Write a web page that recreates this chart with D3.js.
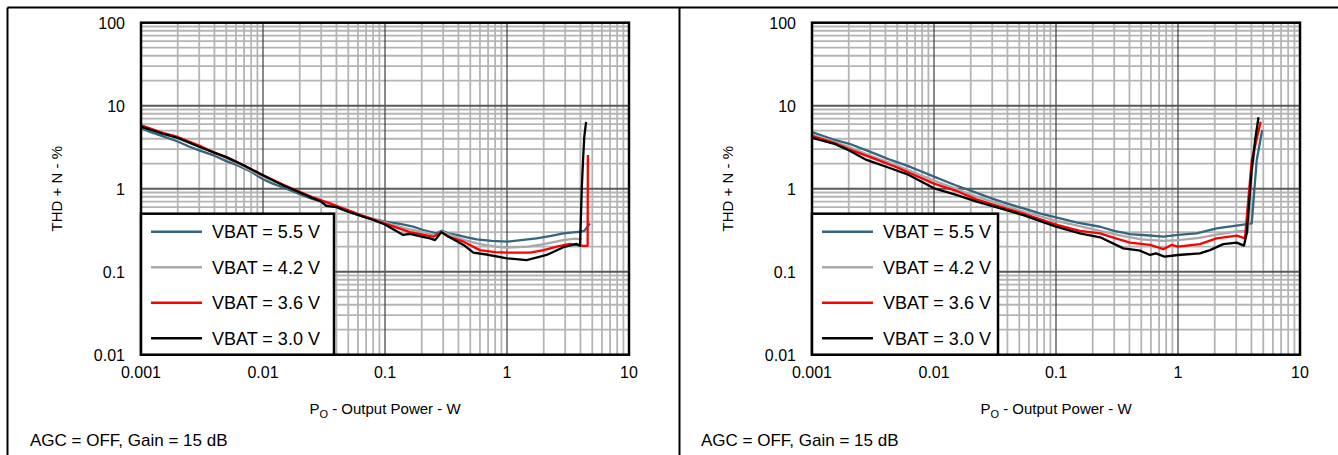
<!DOCTYPE html>
<html>
<head>
<meta charset="utf-8">
<script src="https://cdn.jsdelivr.net/npm/d3@7"></script>
<style>
  body { margin: 0; background: #fff; }
  text { font-family: Arial, "Liberation Sans", sans-serif; fill: #000; }
</style>
</head>
<body>
<div id="chart"></div>
<script>
// ---- data ----
const seriesNames = ["VBAT = 5.5 V", "VBAT = 4.2 V", "VBAT = 3.6 V", "VBAT = 3.0 V"];
const seriesColors = ["#35667f", "#a9a9a9", "#ff0000", "#000000"];
const xTicks = [0.001, 0.01, 0.1, 1, 10];
const yTicks = [0.01, 0.1, 1, 10, 100];
const xTickLabels = ["0.001", "0.01", "0.1", "1", "10"];
const yTickLabels = ["0.01", "0.1", "1", "10", "100"];
const yTitle = "THD + N - %";
const footNote = "AGC = OFF, Gain = 15 dB";

// left panel: [power W, THD+N %]
const leftVbat55 = [[0.001,5.4],[0.0012,4.8],[0.0015,4.3],[0.002,3.7],[0.0025,3.2],[0.003,2.9],[0.004,2.5],[0.005,2.15],[0.006,1.95],[0.008,1.6],[0.01,1.3],[0.012,1.15],[0.015,1.02],[0.02,0.86],[0.025,0.76],[0.03,0.7],[0.035,0.66],[0.045,0.56],[0.066,0.46],[0.1,0.4],[0.133,0.376],[0.17,0.35],[0.206,0.318],[0.265,0.29],[0.29,0.312],[0.33,0.29],[0.387,0.277],[0.47,0.26],[0.565,0.245],[0.75,0.235],[1.0,0.23],[1.3,0.24],[1.75,0.252],[2.3,0.27],[2.9,0.29],[3.5,0.298],[3.97,0.303],[4.3,0.31],[4.79,0.38]];
const leftVbat42 = [[0.001,5.8],[0.0015,4.7],[0.002,4.1],[0.003,3.2],[0.005,2.35],[0.01,1.4],[0.015,1.08],[0.02,0.9],[0.035,0.64],[0.066,0.47],[0.1,0.39],[0.15,0.33],[0.206,0.3],[0.265,0.275],[0.29,0.305],[0.35,0.275],[0.45,0.24],[0.6,0.215],[0.8,0.2],[1.0,0.195],[1.5,0.2],[2.0,0.215],[2.9,0.24],[3.6,0.25],[4.1,0.245]];
const leftVbat36 = [[0.001,5.8],[0.0015,4.7],[0.002,4.2],[0.003,3.3],[0.004,2.7],[0.005,2.4],[0.007,1.9],[0.01,1.45],[0.015,1.1],[0.02,0.92],[0.025,0.8],[0.035,0.67],[0.05,0.55],[0.066,0.47],[0.1,0.38],[0.16,0.3],[0.249,0.264],[0.29,0.3],[0.33,0.265],[0.44,0.23],[0.6,0.182],[0.8,0.172],[1.0,0.17],[1.55,0.17],[2.0,0.182],[2.56,0.2],[3.28,0.216],[4.2,0.205],[4.58,0.205],[4.6,2.55]];
const leftVbat30 = [[0.001,5.6],[0.0015,4.6],[0.002,4.1],[0.003,3.2],[0.005,2.4],[0.007,1.9],[0.01,1.45],[0.015,1.08],[0.02,0.9],[0.025,0.78],[0.03,0.7],[0.033,0.62],[0.04,0.6],[0.05,0.53],[0.08,0.42],[0.1,0.37],[0.141,0.277],[0.16,0.285],[0.2,0.265],[0.234,0.252],[0.257,0.24],[0.29,0.3],[0.33,0.265],[0.44,0.21],[0.53,0.17],[0.7,0.16],[1.0,0.145],[1.45,0.138],[2.11,0.159],[2.9,0.197],[3.72,0.216],[3.97,0.205],[4.1,1.0],[4.2,2.2],[4.3,4.2],[4.45,6.4]];

// right panel
const rightVbat55 = [[0.001,4.8],[0.0015,3.9],[0.002,3.5],[0.0028,2.9],[0.0036,2.5],[0.0044,2.22],[0.006,1.9],[0.008,1.6],[0.01,1.4],[0.015,1.1],[0.021,0.92],[0.03,0.76],[0.04,0.66],[0.054,0.58],[0.075,0.5],[0.1,0.45],[0.15,0.39],[0.23,0.348],[0.3,0.31],[0.404,0.284],[0.55,0.275],[0.76,0.264],[1.0,0.277],[1.42,0.29],[2.07,0.333],[3.22,0.365],[4.02,0.383],[4.42,2.22],[4.9,5.1]];
const rightVbat42 = [[0.001,4.5],[0.0015,3.7],[0.002,3.2],[0.003,2.5],[0.005,1.9],[0.01,1.25],[0.015,1.0],[0.02,0.85],[0.03,0.7],[0.05,0.55],[0.1,0.41],[0.15,0.36],[0.23,0.31],[0.35,0.27],[0.5,0.245],[0.76,0.235],[1.0,0.24],[1.5,0.255],[2.07,0.28],[3.0,0.305],[3.6,0.31],[3.75,0.3],[4.0,1.5],[4.5,5.5]];
const rightVbat36 = [[0.001,4.3],[0.0015,3.6],[0.002,3.0],[0.003,2.4],[0.005,1.8],[0.01,1.15],[0.015,0.95],[0.022,0.75],[0.03,0.65],[0.054,0.5],[0.1,0.37],[0.157,0.31],[0.23,0.29],[0.3,0.255],[0.404,0.224],[0.59,0.21],[0.76,0.187],[0.885,0.21],[1.0,0.2],[1.51,0.215],[2.07,0.252],[3.03,0.272],[3.54,0.252],[4.02,2.2],[4.76,6.4]];
const rightVbat30 = [[0.001,4.1],[0.0015,3.5],[0.002,2.9],[0.0028,2.22],[0.004,1.85],[0.006,1.5],[0.01,1.01],[0.015,0.85],[0.0224,0.7],[0.035,0.58],[0.054,0.48],[0.1,0.35],[0.157,0.29],[0.23,0.26],[0.357,0.191],[0.49,0.179],[0.59,0.159],[0.66,0.166],[0.775,0.152],[1.0,0.159],[1.51,0.166],[1.83,0.182],[2.35,0.215],[3.03,0.224],[3.47,0.206],[3.66,0.29],[4.02,1.68],[4.3,4.0],[4.57,7.25]];

// ---- chart ----
ThdChart = function(_svg, _left, _series, _id) {
    this.svg = _svg;
    this.left = _left;
    this.series = _series;
    this.id = _id;
    this.initVis();
};

ThdChart.prototype.initVis = function() {
    let vis = this;

    vis.top = 22.7;
    vis.width = 488;
    vis.height = 332;

    vis.x = d3.scaleLog().domain([0.001, 10]).range([vis.left, vis.left + vis.width]);
    vis.y = d3.scaleLog().domain([0.01, 100]).range([vis.top + vis.height, vis.top]);

    vis.g = vis.svg.append("g");

    vis.g.append("clipPath").attr("id", "clip" + vis.id)
        .append("rect")
        .attr("x", vis.left).attr("y", vis.top)
        .attr("width", vis.width).attr("height", vis.height);

    // grid: minor lines first, decades on top
    let isMajor = d => Math.abs(Math.log10(d) - Math.round(Math.log10(d))) < 1e-9;
    let xg = vis.x.ticks().filter(d => d > 0.001 && d < 10);
    let yg = vis.y.ticks().filter(d => d > 0.01 && d < 100);

    vis.g.selectAll(".xminor").data(xg.filter(d => !isMajor(d))).enter()
        .append("line").attr("class", "xminor")
        .attr("x1", d => vis.x(d)).attr("x2", d => vis.x(d))
        .attr("y1", vis.top).attr("y2", vis.top + vis.height)
        .attr("stroke", "#b4b4b4").attr("stroke-width", 1.8);
    vis.g.selectAll(".yminor").data(yg.filter(d => !isMajor(d))).enter()
        .append("line").attr("class", "yminor")
        .attr("y1", d => vis.y(d)).attr("y2", d => vis.y(d))
        .attr("x1", vis.left).attr("x2", vis.left + vis.width)
        .attr("stroke", "#b4b4b4").attr("stroke-width", 1.8);
    vis.g.selectAll(".xmajor").data(xg.filter(isMajor)).enter()
        .append("line").attr("class", "xmajor")
        .attr("x1", d => vis.x(d)).attr("x2", d => vis.x(d))
        .attr("y1", vis.top).attr("y2", vis.top + vis.height)
        .attr("stroke", "#3c3c3c").attr("stroke-width", 1.2);
    vis.g.selectAll(".ymajor").data(yg.filter(isMajor)).enter()
        .append("line").attr("class", "ymajor")
        .attr("y1", d => vis.y(d)).attr("y2", d => vis.y(d))
        .attr("x1", vis.left).attr("x2", vis.left + vis.width)
        .attr("stroke", "#595959").attr("stroke-width", 2);

    // curves
    vis.line = d3.line().x(d => vis.x(d[0])).y(d => vis.y(d[1]));
    vis.g.append("g").attr("clip-path", "url(#clip" + vis.id + ")")
        .selectAll("path").data(vis.series).enter()
        .append("path")
        .attr("d", d => vis.line(d))
        .attr("fill", "none")
        .attr("stroke", (d, i) => seriesColors[i])
        .attr("stroke-width", 2.3)
        .attr("stroke-linejoin", "round");

    // frame
    vis.g.append("rect")
        .attr("x", vis.left).attr("y", vis.top)
        .attr("width", vis.width).attr("height", vis.height)
        .attr("fill", "none").attr("stroke", "#000").attr("stroke-width", 2.5);

    // tick labels
    vis.g.selectAll(".xlab").data(xTicks).enter()
        .append("text").attr("class", "xlab")
        .attr("x", d => vis.x(d)).attr("y", vis.top + vis.height + 23)
        .attr("text-anchor", "middle").attr("font-size", "16px")
        .text((d, i) => xTickLabels[i]);
    vis.g.selectAll(".ylab").data(yTicks).enter()
        .append("text").attr("class", "ylab")
        .attr("x", vis.left - 16).attr("y", d => vis.y(d) + 6)
        .attr("text-anchor", "end").attr("font-size", "16px")
        .text((d, i) => yTickLabels[i]);

    // axis titles
    vis.g.append("text")
        .attr("transform", `translate(${vis.left - 79},${vis.top + vis.height / 2}) rotate(-90)`)
        .attr("text-anchor", "middle").attr("font-size", "15px")
        .text(yTitle);
    let xt = vis.g.append("text")
        .attr("x", vis.left + vis.width / 2).attr("y", vis.top + vis.height + 59)
        .attr("text-anchor", "middle").attr("font-size", "15px");
    xt.append("tspan").text("P");
    xt.append("tspan").attr("font-size", "11px").attr("dy", 4).text("O");
    xt.append("tspan").attr("dy", -4).text(" - Output Power - W");

    vis.g.append("text")
        .attr("x", vis.left - 111).attr("y", 446)
        .attr("font-size", "17px")
        .text(footNote);

    // legend
    vis.legend = vis.g.append("g")
        .attr("transform", `translate(${vis.left},${vis.top + vis.height - 141})`);
    vis.legend.append("rect")
        .attr("width", vis.id === 0 ? 193 : 186).attr("height", 141)
        .attr("fill", "#fff").attr("stroke", "#000").attr("stroke-width", 2.5);
    let rows = vis.legend.selectAll(".row").data(seriesNames).enter()
        .append("g").attr("class", "row")
        .attr("transform", (d, i) => `translate(0,${18 + i * 35.5})`);
    rows.append("line")
        .attr("x1", 10).attr("x2", 61)
        .attr("stroke", (d, i) => seriesColors[i]).attr("stroke-width", 2.5);
    rows.append("text")
        .attr("x", 71).attr("y", 6.5)
        .attr("font-size", "18px")
        .text(d => d);
};

let svg = d3.select("#chart").append("svg")
    .attr("width", 1338).attr("height", 455);

// outer panel frames
svg.append("line").attr("x1", 7.5).attr("x2", 1338).attr("y1", 7.5).attr("y2", 7.5)
    .attr("stroke", "#000").attr("stroke-width", 2);
svg.append("line").attr("x1", 7.5).attr("x2", 7.5).attr("y1", 7.5).attr("y2", 455)
    .attr("stroke", "#000").attr("stroke-width", 2);
svg.append("line").attr("x1", 679.5).attr("x2", 679.5).attr("y1", 7.5).attr("y2", 455)
    .attr("stroke", "#000").attr("stroke-width", 2);

new ThdChart(svg, 141, [leftVbat55, leftVbat42, leftVbat36, leftVbat30], 0);
new ThdChart(svg, 812, [rightVbat55, rightVbat42, rightVbat36, rightVbat30], 1);
</script>
</body>
</html>
